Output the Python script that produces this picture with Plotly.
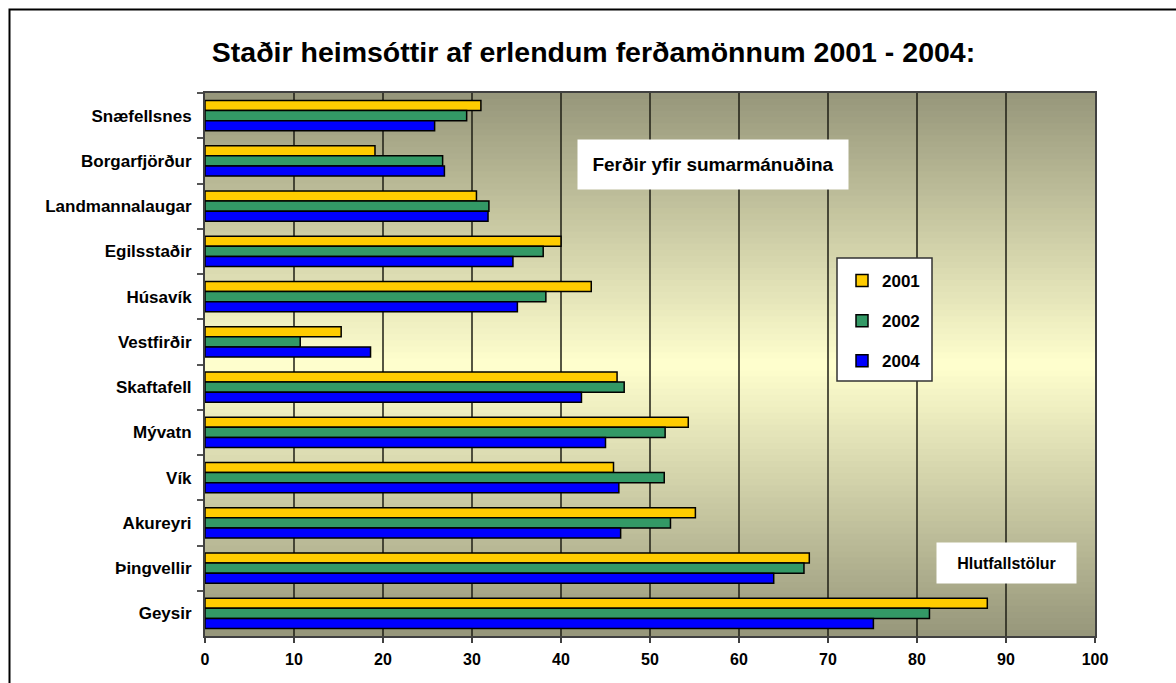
import plotly.graph_objects as go

# --- data -------------------------------------------------------------
places = ["Snæfellsnes", "Borgarfjörður", "Landmannalaugar", "Egilsstaðir",
          "Húsavík", "Vestfirðir", "Skaftafell", "Mývatn", "Vík",
          "Akureyri", "Þingvellir", "Geysir"]
years = ["2001", "2002", "2004"]
v2001 = [31.0, 19.1, 30.5, 40.0, 43.4, 15.3, 46.3, 54.3, 45.9, 55.1, 67.9, 87.9]
v2002 = [29.4, 26.7, 31.9, 38.0, 38.3, 10.7, 47.1, 51.7, 51.6, 52.3, 67.3, 81.4]
v2004 = [25.8, 26.9, 31.8, 34.6, 35.1, 18.6, 42.3, 45.0, 46.5, 46.7, 63.9, 75.1]
x_ticks = list(range(0, 101, 10))

title_text = "Staðir heimsóttir af erlendum ferðamönnum 2001 - 2004:"
note_summer = "Ferðir yfir sumarmánuðina"
note_pct = "Hlutfallstölur"

# --- page geometry ----------------------------------------------------
W, H = 1176, 683
ML, MR, MT, MB = 205, 81, 93, 47
PW, PH = W - ML - MR, H - MT - MB


def px(x):
    return (x - ML) / PW


def py(y):
    return (H - MB - y) / PH


FONT = "Liberation Sans, Arial, sans-serif"
colors = ["#ffcc00", "#339966", "#0000ff"]
series = [v2001, v2002, v2004]

fig = go.Figure()
for name, vals, col in zip(years, series, colors):
    fig.add_trace(go.Bar(
        y=places, x=vals, name=name, orientation="h",
        marker=dict(color=col, line=dict(color="#000000", width=1.5)),
        legendgroup=name,
    ))

# vertical gradient behind the plot area: olive - pale yellow - olive
shapes = []
n_bands = 90
dark = (150, 150, 122)
light = (255, 255, 206)
for i in range(n_bands):
    y0 = i / n_bands
    y1 = (i + 1) / n_bands
    t = abs(((y0 + y1) / 2) * 2 - 1)
    c = tuple(round(light[k] + (dark[k] - light[k]) * t) for k in range(3))
    shapes.append(dict(type="rect", xref="paper", yref="paper",
                       x0=0, x1=1, y0=y0, y1=y1 + 0.002,
                       fillcolor="rgb(%d,%d,%d)" % c,
                       line=dict(width=0), layer="below"))

# outer frame of the chart
shapes.append(dict(type="rect", xref="paper", yref="paper",
                   x0=px(9.5), x1=px(1200), y0=py(9.5), y1=py(700),
                   line=dict(color="#000000", width=2), fillcolor="rgba(0,0,0,0)",
                   layer="above"))

# legend box
shapes.append(dict(type="rect", xref="paper", yref="paper",
                   x0=px(837), x1=px(932), y0=py(381), y1=py(258),
                   line=dict(color="#333333", width=1.5), fillcolor="#ffffff",
                   layer="above"))

annotations = [
    dict(text=note_summer, xref="paper", yref="paper",
         x=px(713), y=py(164.5), xanchor="center", yanchor="middle",
         showarrow=False, width=268, height=47, bgcolor="#ffffff",
         font=dict(family=FONT, size=19, color="#000000", weight="bold")),
    dict(text=note_pct, xref="paper", yref="paper",
         x=px(1006.5), y=py(563), xanchor="center", yanchor="middle",
         showarrow=False, width=137, height=38, bgcolor="#ffffff",
         font=dict(family=FONT, size=16, color="#000000", weight="bold")),
]

fig.update_layout(
    width=W, height=H,
    margin=dict(l=ML, r=MR, t=MT, b=MB, pad=0),
    paper_bgcolor="#ffffff",
    plot_bgcolor="#96967a",
    barmode="group",
    bargap=0.337,
    bargroupgap=0,
    title=dict(text=title_text, xref="container", yref="container",
               x=593.5 / W, y=1 - 52 / H, xanchor="center", yanchor="middle",
               font=dict(family=FONT, size=28.5, color="#000000", weight="bold")),
    legend=dict(x=px(842), y=py(263), xanchor="left", yanchor="top",
                bgcolor="rgba(0,0,0,0)", borderwidth=0,
                tracegroupgap=15, traceorder="grouped",
                font=dict(family=FONT, size=17, color="#000000", weight="bold")),
    shapes=shapes,
    annotations=annotations,
    xaxis=dict(range=[0, 100], tickvals=x_ticks, ticks="outside", ticklen=5,
               tickwidth=1.5, tickcolor="#404040", ticklabelstandoff=3,
               showgrid=True, gridcolor="rgba(30,30,20,0.75)", gridwidth=1.5,
               showline=True, linecolor="#404040", linewidth=2, mirror=True,
               zeroline=False,
               tickfont=dict(family=FONT, size=16, color="#000000", weight="bold")),
    yaxis=dict(autorange="reversed", type="category", ticks="outside",
               tickson="boundaries", ticklen=6, tickwidth=1.5, tickcolor="#555555",
               ticklabelstandoff=8,
               showgrid=False, showline=True, linecolor="#404040", linewidth=2,
               mirror=True,
               tickfont=dict(family=FONT, size=17, color="#000000", weight="bold")),
)

fig.write_html("out.html")
